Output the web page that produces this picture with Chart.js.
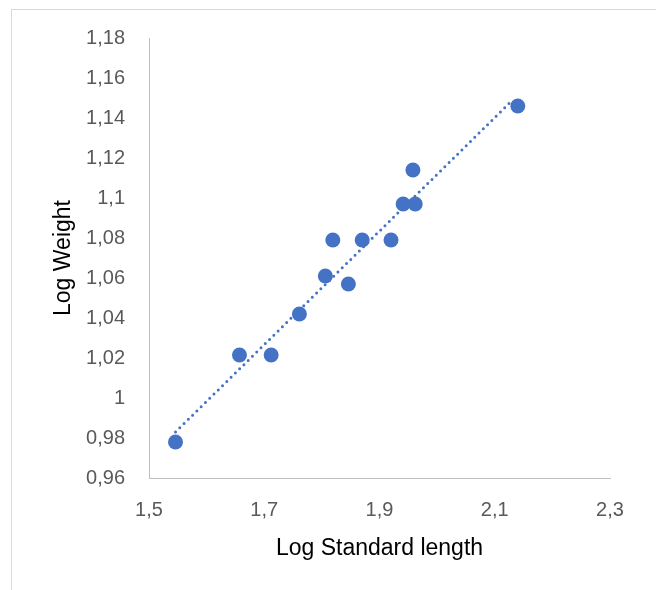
<!DOCTYPE html>
<html>
<head>
<meta charset="utf-8">
<script src="https://cdn.jsdelivr.net/npm/chart.js@4/dist/chart.umd.min.js"></script>
<style>
  html, body { margin: 0; padding: 0; background: #ffffff; }
  #wrap { width: 656px; height: 590px; }
</style>
</head>
<body>
<div id="wrap"><canvas id="c" width="656" height="590"></canvas></div>
<script>
// Data
const logLength = [1.546, 1.657, 1.712, 1.761, 1.806, 1.819, 1.846, 1.870, 1.920, 1.941, 1.958, 1.962, 2.140];
const logWeight = [0.978, 1.0215, 1.0215, 1.042, 1.061, 1.079, 1.057, 1.079, 1.079, 1.097, 1.114, 1.097, 1.146];
// Linear trendline end points (dotted)
const trendX = [1.546, 2.131];
const trendY = [0.983, 1.149];
// Tick labels
const xTickValues = [1.5, 1.7, 1.9, 2.1, 2.3];
const yTickValues = [0.96, 0.98, 1.00, 1.02, 1.04, 1.06, 1.08, 1.10, 1.12, 1.14, 1.16, 1.18];
const xTitle = 'Log Standard length';
const yTitle = 'Log Weight';

const fmt = v => String(Number(v.toFixed(2))).replace('.', ',');
const blue = '#4472C4';

const frame = {
  id: 'frame',
  beforeDraw(chart) {
    const ctx = chart.ctx;
    ctx.save();
    ctx.fillStyle = '#ffffff';
    ctx.fillRect(0, 0, chart.width, chart.height);
    ctx.strokeStyle = '#d9d9d9';
    ctx.lineWidth = 1;
    ctx.strokeRect(11.5, 9.5, 800, 800);
    ctx.restore();
  }
};

new Chart(document.getElementById('c'), {
  type: 'scatter',
  data: {
    datasets: [
      {
        label: 'Log Weight',
        data: logLength.map((x, i) => ({ x: x, y: logWeight[i] })),
        backgroundColor: blue,
        borderColor: blue,
        borderWidth: 0,
        pointRadius: 7.5,
        pointHoverRadius: 7.5,
        order: 1
      },
      {
        type: 'line',
        label: 'Linear trend',
        data: trendX.map((x, i) => ({ x: x, y: trendY[i] })),
        borderColor: blue,
        borderWidth: 3,
        borderDash: [0, 6],
        borderCapStyle: 'round',
        pointRadius: 0,
        fill: false,
        showLine: true,
        order: 2
      }
    ]
  },
  options: {
    responsive: false,
    animation: false,
    devicePixelRatio: 1,
    events: [],
    layout: { padding: { left: 0, top: 38, right: 46, bottom: 0 } },
    plugins: {
      legend: { display: false },
      tooltip: { enabled: false }
    },
    scales: {
      x: {
        type: 'linear',
        min: 1.5,
        max: 2.3,
        afterBuildTicks: s => { s.ticks = xTickValues.map(v => ({ value: v })); },
        afterFit: s => { s.height = 112; },
        grid: { display: false, drawTicks: false },
        border: { display: true, color: '#bfbfbf', width: 1 },
        ticks: {
          callback: v => fmt(v),
          color: '#595959',
          font: { family: 'Liberation Sans', size: 20 },
          padding: 20,
          maxRotation: 0,
          autoSkip: false
        },
        title: {
          display: true,
          text: xTitle,
          color: '#000000',
          font: { family: 'Liberation Sans', size: 23 },
          padding: { top: 0, bottom: 28 }
        }
      },
      y: {
        type: 'linear',
        min: 0.96,
        max: 1.18,
        afterBuildTicks: s => { s.ticks = yTickValues.map(v => ({ value: v })); },
        afterFit: s => { s.width = 149; },
        grid: { display: false, drawTicks: false },
        border: { display: true, color: '#bfbfbf', width: 1 },
        ticks: {
          callback: v => fmt(v),
          color: '#595959',
          font: { family: 'Liberation Sans', size: 20 },
          padding: 24,
          autoSkip: false
        },
        title: {
          display: true,
          text: yTitle,
          color: '#000000',
          font: { family: 'Liberation Sans', size: 23 },
          padding: { top: 50, bottom: 0 }
        }
      }
    }
  },
  plugins: [frame]
});
</script>
</body>
</html>
